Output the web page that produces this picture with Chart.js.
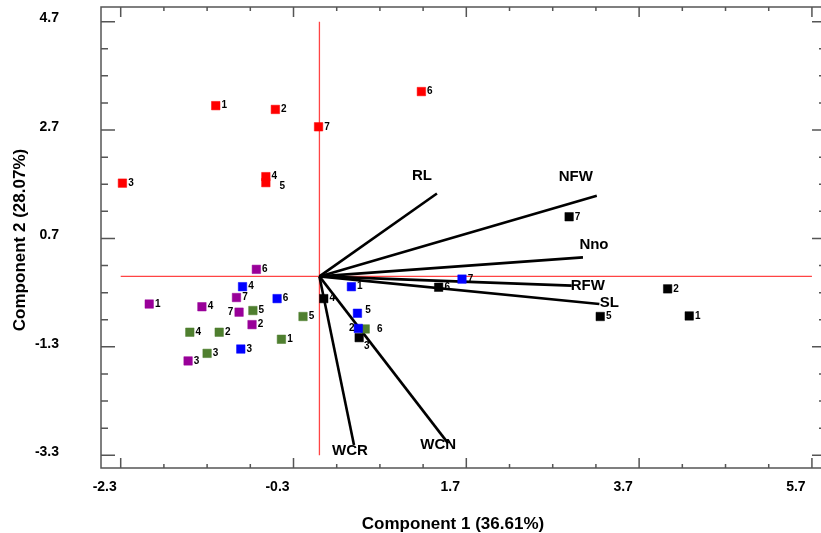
<!DOCTYPE html>
<html lang="en">
<head>
  <meta charset="UTF-8">
  <title>PCA biplot</title>
  <script src="https://cdn.jsdelivr.net/npm/chart.js"></script>
  <style>
    html, body { margin: 0; padding: 0; background: #fff; overflow: hidden; }
    canvas { display: block; }
  </style>
</head>
<body>
  <canvas id="pca" width="821" height="533"></canvas>

  <script>
    // axis ticks
    const xTicks = [-2.3, -0.3, 1.7, 3.7, 5.7];
    const xTickLabels = ['-2.3', '-0.3', '1.7', '3.7', '5.7'];
    const xMinorTicks = [-1.8, -1.3, -0.8, 0.2, 0.7, 1.2, 2.2, 2.7, 3.2, 4.2, 4.7, 5.2];
    const yTicks = [-3.3, -1.3, 0.7, 2.7, 4.7];
    const yTickLabels = ['-3.3', '-1.3', '0.7', '2.7', '4.7'];
    const yMinorTicks = [-2.8, -2.3, -1.8, -0.8, -0.3, 0.2, 1.2, 1.7, 2.2, 3.2, 3.7, 4.2];

    // scores, one group per colour
    const redLabels = ['1', '2', '3', '4', '5', '6', '7'];
    const redX = [-1.20, -0.51, -2.28, -0.62, -0.62, 1.18, -0.01];
    const redY = [3.15, 3.08, 1.72, 1.84, 1.73, 3.41, 2.76];

    const purpleLabels = ['1', '2', '3', '4', '6', '7', '7'];
    const purpleX = [-1.97, -0.78, -1.52, -1.36, -0.73, -0.96, -0.93];
    const purpleY = [-0.51, -0.89, -1.56, -0.56, 0.13, -0.39, -0.66];

    const blueLabels = ['1', '2', '3', '4', '5', '6', '7'];
    const blueX = [0.37, 0.45, -0.91, -0.89, 0.44, -0.49, 1.65];
    const blueY = [-0.19, -0.96, -1.34, -0.19, -0.68, -0.41, -0.05];

    const greenLabels = ['1', '2', '3', '4', '5', '5', '6'];
    const greenX = [-0.44, -1.16, -1.30, -1.50, -0.77, -0.19, 0.53];
    const greenY = [-1.16, -1.03, -1.42, -1.03, -0.63, -0.74, -0.97];

    const blackLabels = ['1', '2', '3', '4', '5', '6', '7'];
    const blackX = [4.28, 4.03, 0.46, 0.05, 3.25, 1.38, 2.89];
    const blackY = [-0.73, -0.23, -1.13, -0.41, -0.74, -0.20, 1.10];

    // loadings
    const vecNames = ['RL', 'NFW', 'Nno', 'RFW', 'SL', 'WCR', 'WCN'];
    const vecX = [1.36, 3.21, 3.05, 2.92, 3.24, 0.40, 1.49];
    const vecY = [1.53, 1.49, 0.35, -0.17, -0.51, -3.11, -3.08];

    // label placement (pixels)
    const vecLabelOffset = [[-15, -18], [-21, -19], [11, -13], [16, 0], [10, -1], [-4, 6], [-10, 2]];
    const labelNudge = {
      red4: [8, 4],
      purple6: [-17, 0],
      blue1: [-15, 0],
      blue4: [2, -3],
      green6: [6, 0],
      black2: [-1, 9]
    };

    const groups = [
      { key: 'red', color: '#ff0000', labels: redLabels, xs: redX, ys: redY },
      { key: 'purple', color: '#990099', labels: purpleLabels, xs: purpleX, ys: purpleY },
      { key: 'blue', color: '#0000ff', labels: blueLabels, xs: blueX, ys: blueY },
      { key: 'green', color: '#4f7f2f', labels: greenLabels, xs: greenX, ys: greenY },
      { key: 'black', color: '#000000', labels: blackLabels, xs: blackX, ys: blackY }
    ];

    const FONT = '"Liberation Sans", Arial, sans-serif';
    const X_END = 5.863; // plot frame's right edge, just past the window

    const datasets = [];
    groups.forEach(g => {
      datasets.push({
        data: g.xs.map((v, i) => ({ x: v, y: g.ys[i] })),
        pointStyle: 'rect',
        pointRadius: 6,
        backgroundColor: g.color,
        borderColor: g.color,
        borderWidth: 0.5,
        order: 0
      });
    });
    vecNames.forEach((n, i) => {
      datasets.push({
        data: [{ x: 0, y: 0 }, { x: vecX[i], y: vecY[i] }],
        showLine: true,
        pointRadius: 0,
        borderColor: '#000',
        borderWidth: 2.6,
        order: 1
      });
    });
    // red reference cross through the origin
    datasets.push({
      data: [{ x: xTicks[0], y: 0 }, { x: xTicks[xTicks.length - 1], y: 0 }],
      showLine: true, pointRadius: 0, borderColor: '#ff4444', borderWidth: 1.3, order: 2
    });
    datasets.push({
      data: [{ x: 0, y: yTicks[0] }, { x: 0, y: yTicks[yTicks.length - 1] }],
      showLine: true, pointRadius: 0, borderColor: '#ff4444', borderWidth: 1.3, order: 2
    });

    const decor = {
      id: 'decor',
      afterDatasetsDraw(chart) {
        const { ctx, scales: { x, y } } = chart;
        ctx.save();
        ctx.fillStyle = '#000';
        ctx.textBaseline = 'middle';
        ctx.textAlign = 'center';
        ctx.font = 'bold 10px ' + FONT;
        groups.forEach((g, gi) => {
          chart.getDatasetMeta(gi).data.forEach((el, i) => {
            const n = labelNudge[g.key + i] || [0, 0];
            ctx.fillText(g.labels[i], el.x + 8.5 + n[0], el.y + n[1]);
          });
        });
        ctx.font = 'bold 15px ' + FONT;
        vecNames.forEach((name, i) => {
          const o = vecLabelOffset[i];
          ctx.fillText(name, x.getPixelForValue(vecX[i]) + o[0], y.getPixelForValue(vecY[i]) + o[1]);
        });
        ctx.restore();
      },
      afterDraw(chart) {
        const { ctx, chartArea: a, scales: { x, y } } = chart;
        const right = x.getPixelForValue(X_END);
        ctx.save();
        ctx.strokeStyle = '#555';
        ctx.lineWidth = 1.5;
        ctx.strokeRect(a.left, a.top, right - a.left, a.bottom - a.top);
        ctx.beginPath();
        const tickX = (v, len) => {
          const p = x.getPixelForValue(v);
          ctx.moveTo(p, a.bottom); ctx.lineTo(p, a.bottom - len);
          ctx.moveTo(p, a.top); ctx.lineTo(p, a.top + len);
        };
        const tickY = (v, len) => {
          const p = y.getPixelForValue(v);
          ctx.moveTo(a.left, p); ctx.lineTo(a.left + len, p);
          ctx.moveTo(right, p); ctx.lineTo(right - len, p);
        };
        xTicks.forEach(v => tickX(v, 10));
        xMinorTicks.forEach(v => tickX(v, 4));
        yTicks.forEach(v => tickY(v, 14));
        yMinorTicks.forEach(v => tickY(v, 7));
        ctx.stroke();

        ctx.fillStyle = '#000';
        ctx.font = 'bold 17px ' + FONT;
        ctx.textAlign = 'center';
        ctx.textBaseline = 'middle';
        ctx.fillText('Component 1 (36.61%)', 453, 524);
        ctx.translate(20, 240);
        ctx.rotate(-Math.PI / 2);
        ctx.fillText('Component 2 (28.07%)', 0, 0);
        ctx.restore();
      }
    };

    new Chart(document.getElementById('pca'), {
      type: 'scatter',
      data: { datasets },
      options: {
        responsive: false,
        animation: false,
        layout: { autoPadding: false, padding: { top: 7, right: 0, left: 0, bottom: 0 } },
        plugins: { legend: { display: false }, tooltip: { enabled: false } },
        scales: {
          x: {
            type: 'linear',
            min: -2.528,
            max: 5.805,
            afterBuildTicks: s => { s.ticks = xTicks.map(v => ({ value: v })); },
            afterFit: s => { s.height = 65; s.paddingLeft = 0; s.paddingRight = 0; },
            ticks: {
              callback: (v, i) => xTickLabels[i],
              color: '#000',
              font: { family: FONT, size: 14, weight: 'bold' },
              padding: 11,
              labelOffset: -16,
              maxRotation: 0,
              autoSkip: false
            },
            grid: { display: false, drawTicks: false },
            border: { display: false }
          },
          y: {
            type: 'linear',
            min: -3.535,
            max: 4.97,
            afterBuildTicks: s => { s.ticks = yTicks.map(v => ({ value: v })); },
            afterFit: s => { s.width = 101; s.paddingTop = 0; s.paddingBottom = 0; },
            ticks: {
              callback: (v, i) => yTickLabels[i],
              color: '#000',
              font: { family: FONT, size: 14, weight: 'bold' },
              padding: 42,
              labelOffset: -3,
              autoSkip: false
            },
            grid: { display: false, drawTicks: false },
            border: { display: false }
          }
        }
      },
      plugins: [decor]
    });
  </script>
</body>
</html>
